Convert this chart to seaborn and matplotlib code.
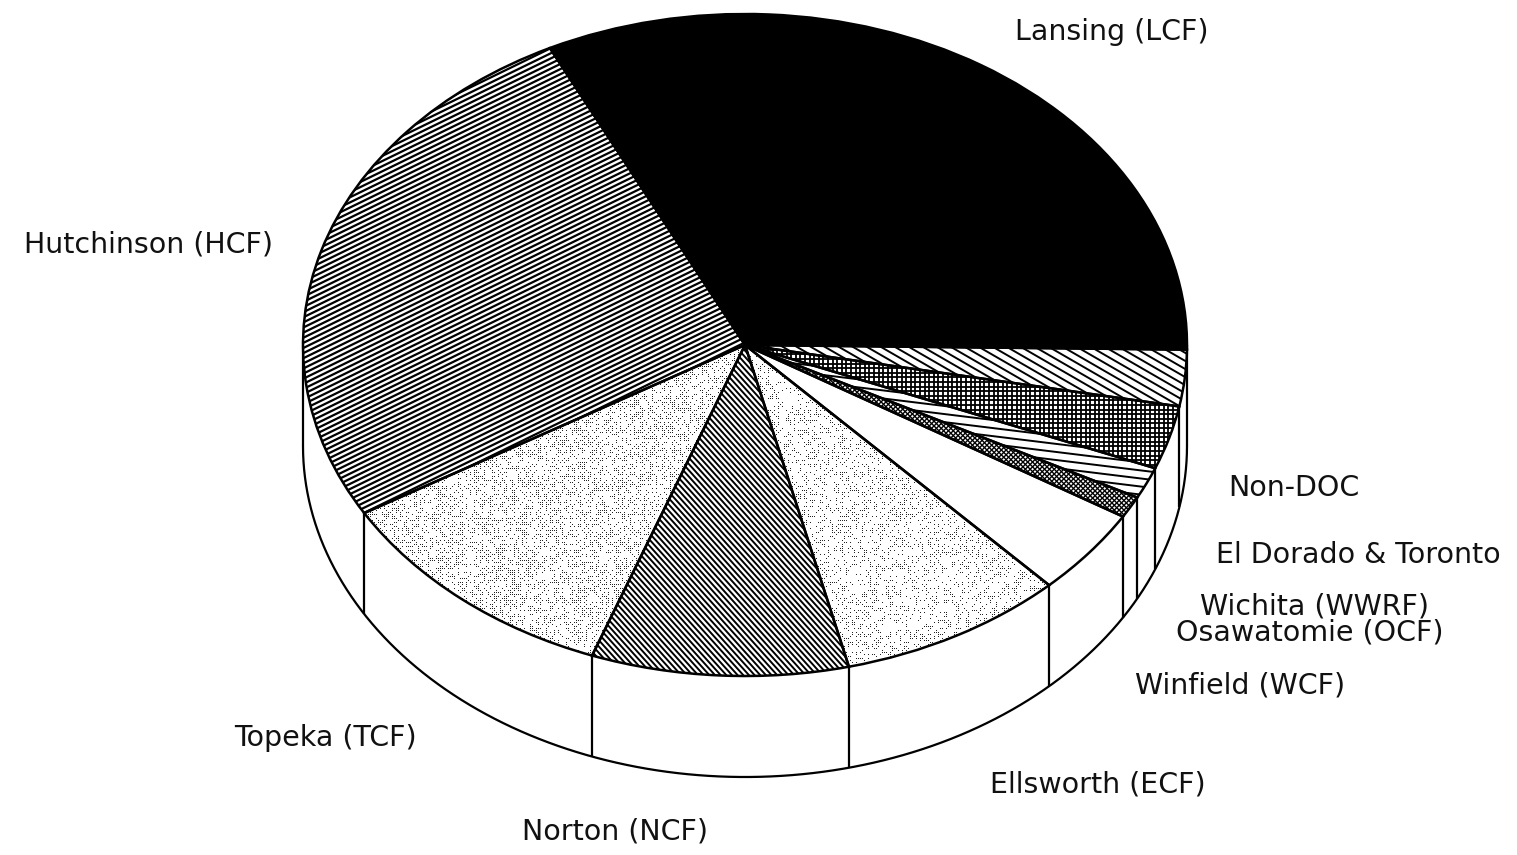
import numpy as np
import seaborn as sns
import matplotlib.pyplot as plt
from matplotlib.collections import LineCollection
from matplotlib.transforms import IdentityTransform

# share of each slice in percent, counter-clockwise from 3 o'clock
facilities = ["Lansing (LCF)", "Hutchinson (HCF)", "Topeka (TCF)", "Norton (NCF)",
              "Ellsworth (ECF)", "Winfield (WCF)", "Osawatomie (OCF)", "Wichita (WWRF)",
              "El Dorado & Toronto", "Non-DOC"]
shares = [32.5, 26.2, 10.9, 9.4, 8.3, 4.25, 1.05, 1.55, 3.1, 2.75]

W, H = 1517, 855
CX, CY, RX, RY, DEPTH = 745, 345, 442, 331, 101
START = -0.8

sns.set_theme(style="white")
plt.rcParams['font.family'] = ['DejaVu Sans']

fig = plt.figure(figsize=(W / 100, H / 100), dpi=100)
ax = fig.add_axes([0, 0, 1, 1])

wedges, _ = ax.pie(shares, startangle=START, radius=1, colors=['white'] * len(shares),
                   wedgeprops=dict(linewidth=0, zorder=3))
outlines, _ = ax.pie(shares, startangle=START, radius=1,
                     wedgeprops=dict(fill=False, edgecolor='black', linewidth=1.8, zorder=6))
ax.set_aspect('auto')
ax.set_xlim(-CX / RX, (W - CX) / RX)
ax.set_ylim(-(H - CY) / RY, CY / RY)
ax.axis('off')

# side wall of the disc
depth = DEPTH / RY
xs = np.cos(np.linspace(np.pi, 2 * np.pi, 400))
ys = np.sin(np.linspace(np.pi, 2 * np.pi, 400))
ax.fill_between(xs, ys, ys - depth, color='white', zorder=1)
ax.plot(xs, ys - depth, color='black', lw=1.6, zorder=2)
ax.vlines([-1, 1], [0, 0], [-depth, -depth], color='black', lw=1.6, zorder=2)
edges = np.radians(START + np.cumsum(shares) / sum(shares) * 360)
front = edges[(edges > np.pi) & (edges < 2 * np.pi - 0.03)]
ax.vlines(np.cos(front), np.sin(front), np.sin(front) - depth, color='black', lw=1.6, zorder=2)


def line_fill(wedge, angle, gap, lw):
    # parallel lines in pixel space, clipped to the slice
    th = np.radians(angle)
    d = np.array([np.cos(th), np.sin(th)])
    n = np.array([-np.sin(th), np.cos(th)])
    mid = np.array([W / 2, H / 2])
    segs = [[mid + n * o - d * 1500, mid + n * o + d * 1500] for o in np.arange(-1500, 1500, gap)]
    lc = LineCollection(segs, colors='black', linewidths=lw, transform=IdentityTransform(), zorder=4)
    ax.add_collection(lc, autolim=False)
    lc.set_clip_path(wedge)


def stipple(wedge, keep):
    # halftone dots on a 2 px lattice, thinned by a fixed hash of the cell index
    n, m = np.meshgrid(np.arange(W // 2), np.arange(H // 2))
    mask = (np.sin(n * 12.9898 + m * 78.233) * 43758.5453) % 1 < keep
    dots, = ax.plot(n[mask] * 2, m[mask] * 2, ls='none', marker=',', color='#222222',
                    transform=IdentityTransform(), zorder=4)
    dots.set_clip_path(wedge)


wedges[0].set_facecolor('black')
line_fill(wedges[1], 26, 4.6, 1.6)
stipple(wedges[2], 0.36)
line_fill(wedges[3], -48, 4.2, 1.4)
stipple(wedges[4], 0.26)
line_fill(wedges[6], 45, 3.4, 1.0)
line_fill(wedges[6], -45, 3.4, 1.0)
line_fill(wedges[7], -7, 8.0, 1.4)
line_fill(wedges[8], 0, 4.6, 1.3)
line_fill(wedges[8], 90, 4.6, 1.3)
line_fill(wedges[9], -30, 7.0, 1.4)

# labels, centre of each string in pixels from top left
label_x = [1112, 148, 325, 615, 1098, 1240, 1310, 1315, 1358, 1294]
label_y = [32, 244, 738, 831, 784, 685, 632, 606, 555, 488]
for name, x, y in zip(facilities, label_x, label_y):
    fig.text(x / W, 1 - y / H, name, ha='center', va='center', fontsize=20.5, color='#111111')

fig.savefig("out.png", dpi=100, facecolor='white')
